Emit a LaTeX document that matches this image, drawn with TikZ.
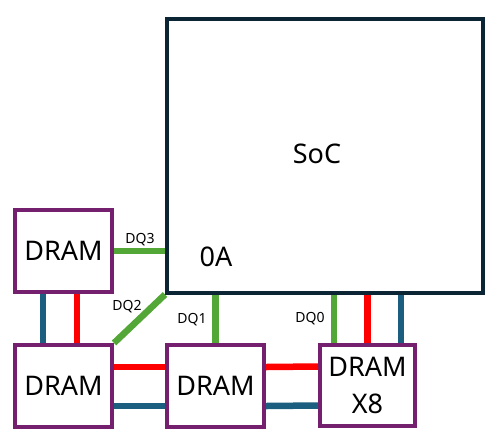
\documentclass[tikz,border=0pt]{standalone}
\usepackage{fontspec}
\setmainfont{Noto Sans}
\definecolor{socnavy}{HTML}{0B2535}
\definecolor{drampurple}{HTML}{74206E}
\definecolor{dqgreen}{HTML}{52A736}
\definecolor{busred}{HTML}{FF0000}
\definecolor{busblue}{HTML}{1B5E7F}
\tikzset{
    chip/.style={draw=drampurple, line width=4pt, fill=white, inner sep=0pt,
        minimum width=97pt, minimum height=82pt, align=center,
        font=\fontsize{27}{37}\selectfont},
    dq/.style={dqgreen, line width=6.5pt},
    rbus/.style={busred, line width=6.5pt},
    bbus/.style={busblue, line width=6.5pt},
    dqlabel/.style={font=\fontsize{14}{16}\selectfont, inner sep=0pt},
    biglabel/.style={font=\fontsize{27}{30}\selectfont, inner sep=0pt}
}
\begin{document}
\begin{tikzpicture}[x=1pt, y=-1pt]
    \useasboundingbox (0, 0) rectangle (497, 440);

    % SoC
    \node[draw=socnavy, line width=4pt, minimum width=316pt, minimum height=274pt, inner sep=0pt] (soc) at (325, 155.5) {};
    \node[biglabel] (soctext) at (317, 154) {SoC};
    \node[biglabel] (port) at (216, 257) {0A};

    % DRAM
    \node[chip] (dramtl) at (63.5, 251) {DRAM};
    \node[chip] (drambl) at (63.5, 386) {DRAM};
    \node[chip] (drammid) at (215.5, 386) {DRAM};
    \node[chip, minimum width=95pt, minimum height=81pt] (dramx) at (367.5, 385.5) {DRAM\\X8};

    % 数据线
    \draw[dq] (dramtl.east) -- (soc.west |- dramtl.east);
    \draw[dq] (drambl.north east) -- (soc.south west);
    \draw[dq] (drammid.north) -- (drammid.north |- soc.south);
    \draw[dq] ([xshift=-33.5pt]dramx.north) -- ([xshift=-33.5pt]dramx.north |- soc.south);
    \draw[rbus] (dramx.north) -- (dramx.north |- soc.south);
    \draw[bbus] ([xshift=33.5pt]dramx.north) -- ([xshift=33.5pt]dramx.north |- soc.south);

    % DRAM 之间
    \draw[bbus] ([xshift=-20.5pt]dramtl.south) -- ([xshift=-20.5pt]drambl.north);
    \draw[rbus] ([xshift=13.5pt]dramtl.south) -- ([xshift=13.5pt]drambl.north);
    \draw[rbus] ([yshift=19pt]drambl.east) -- ([yshift=19pt]drammid.west);
    \draw[bbus] ([yshift=-20pt]drambl.east) -- ([yshift=-20pt]drammid.west);
    \draw[rbus] ([yshift=19pt]drammid.east) -- ([yshift=19pt]dramx.west);
    \draw[bbus] ([yshift=-20pt]drammid.east) -- ([yshift=-20pt]dramx.west);

    % 标签
    \node[dqlabel] (dq3) at (140, 240) {DQ3};
    \node[dqlabel] (dq2) at (127, 307) {DQ2};
    \node[dqlabel] (dq1) at (192, 320) {DQ1};
    \node[dqlabel] (dq0) at (310, 319) {DQ0};
\end{tikzpicture}
\end{document}
